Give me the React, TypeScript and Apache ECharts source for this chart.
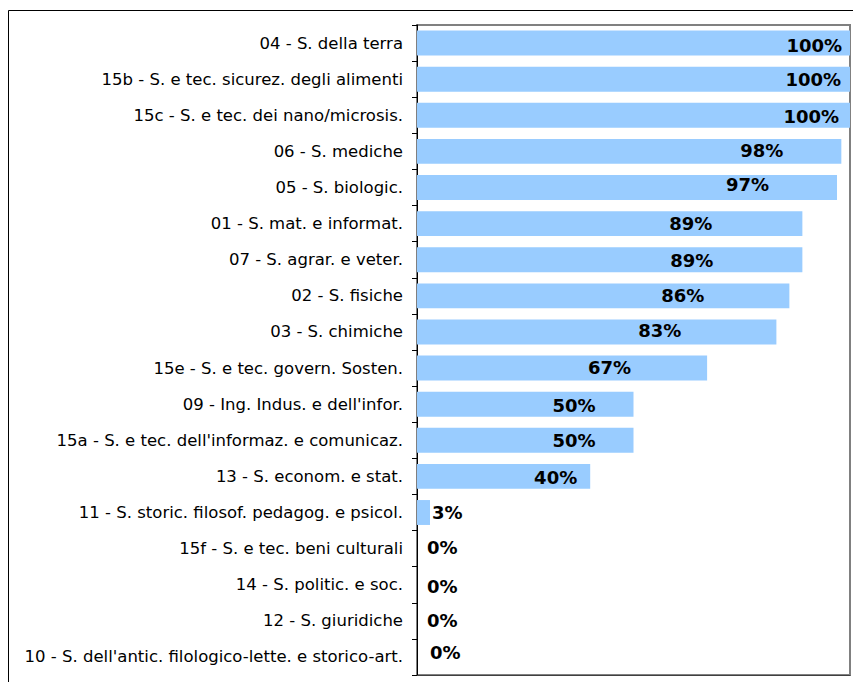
import React, { useEffect, useRef } from "react";
import * as echarts from "echarts";

const categories: string[] = [
  "04 - S. della terra",
  "15b - S. e tec. sicurez. degli alimenti",
  "15c - S. e tec. dei nano/microsis.",
  "06 - S. mediche",
  "05 - S. biologic.",
  "01 - S. mat. e informat.",
  "07 - S. agrar. e veter.",
  "02 - S. fisiche",
  "03 - S. chimiche",
  "15e - S. e tec. govern. Sosten.",
  "09 - Ing. Indus. e dell'infor.",
  "15a - S. e tec. dell'informaz. e comunicaz.",
  "13 - S. econom. e stat.",
  "11 - S. storic. filosof. pedagog. e psicol.",
  "15f - S. e tec. beni culturali",
  "14 - S. politic. e soc.",
  "12 - S. giuridiche",
  "10 - S. dell'antic. filologico-lette. e storico-art.",
];

const values: number[] = [100, 100, 100, 98, 97, 89, 89, 86, 83, 67, 50, 50, 40, 3, 0, 0, 0, 0];

// label placement nudges (style only): [inset from bar end (px), vertical nudge (px)]
const labelNudges: number[][] = [
  [8, 2], [9, 0], [11, 1], [58, -1], [68, -3], [90, 0], [89, 1], [85, 0], [95, -1],
  [76, -1], [38, 1], [38, 0], [13, 1], [-2, 0], [-10, -1], [-10, 2], [-10, 0], [-13, -4],
];

export default function App() {
  const ref = useRef<HTMLDivElement>(null);
  useEffect(() => {
    if (!ref.current) return;
    const chart = echarts.init(ref.current, null, { renderer: "svg" });
    const font = "DejaVu Sans";
    const data = values.map((v, i) => {
      const [dx, dy] = labelNudges[i];
      const inside = dx > 0;
      return {
        value: v,
        label: inside
          ? { position: "insideRight", distance: 0, offset: [-dx, dy] }
          : { position: "right", distance: -dx, offset: [0, dy] },
      };
    });
    chart.setOption({
      animation: false,
      backgroundColor: "#ffffff",
      textStyle: { fontFamily: font },
      grid: {
        left: 417,
        right: 3,
        top: 25,
        bottom: 7,
        show: true,
        borderColor: "#808080",
        borderWidth: 2,
        containLabel: false,
      },
      xAxis: {
        type: "value",
        min: 0,
        max: 100,
        show: true,
        axisLine: { show: true, lineStyle: { color: "#404040", width: 1 } },
        axisTick: { show: false },
        axisLabel: { show: false },
        splitLine: { show: false },
      },
      yAxis: {
        type: "category",
        data: categories,
        inverse: true,
        axisLine: { show: true, lineStyle: { color: "#000000", width: 1 } },
        axisTick: { show: true, length: 5, inside: false, lineStyle: { color: "#000000" } },
        axisLabel: {
          color: "#000000",
          fontFamily: font,
          fontSize: 16.5,
          margin: 14,
        },
      },
      graphic: [
        {
          type: "rect",
          shape: { x: 8.5, y: 10.5, width: 846, height: 700 },
          style: { fill: "none", stroke: "#000000", lineWidth: 1 },
          silent: true,
          z: 0,
        },
      ],
      series: [
        {
          type: "bar",
          data,
          barCategoryGap: "31%",
          itemStyle: { color: "#99CCFF" },
          label: {
            show: true,
            formatter: "{c}%",
            color: "#000000",
            fontFamily: font,
            fontWeight: "bold",
            fontSize: 18,
          },
        },
      ],
    });
    return () => chart.dispose();
  }, []);
  return (
    <div
      ref={ref}
      style={{ position: "absolute", left: 0, top: 0, width: 853, height: 682 }}
    />
  );
}
